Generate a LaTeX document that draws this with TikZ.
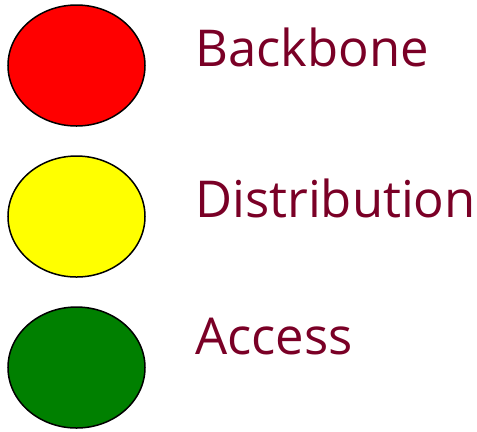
\documentclass[tikz,border=0pt]{standalone}
\usepackage{fontspec}
\setmainfont{Open Sans}
\usetikzlibrary{shapes.geometric}
\definecolor{lbl}{RGB}{122,0,38}
\definecolor{dotred}{RGB}{255,0,0}
\definecolor{dotyellow}{RGB}{255,255,0}
\definecolor{dotgreen}{RGB}{0,128,0}
\begin{document}
\begin{tikzpicture}[x=1bp,y=-1bp,
  dot/.style={draw=black,line width=1.5bp,ellipse,minimum width=137bp,minimum height=121bp,inner sep=0},
  lab/.style={anchor=base west,inner sep=0,text=lbl,font=\fontsize{51}{60}\selectfont}]
\useasboundingbox (0,0) rectangle (477,431);
\node[dot,fill=dotred] (red) at (76.5,65.5) {};
\node[dot,fill=dotyellow] (yellow) at (76.5,216.5) {};
\node[dot,fill=dotgreen] (green) at (76.5,367.5) {};
\node[lab] (backbone) at (195,66) {Backbone};
\node[lab] (distribution) at (195,217) {Distribution};
\node[lab] (access) at (195,354) {Access};
\end{tikzpicture}
\end{document}
